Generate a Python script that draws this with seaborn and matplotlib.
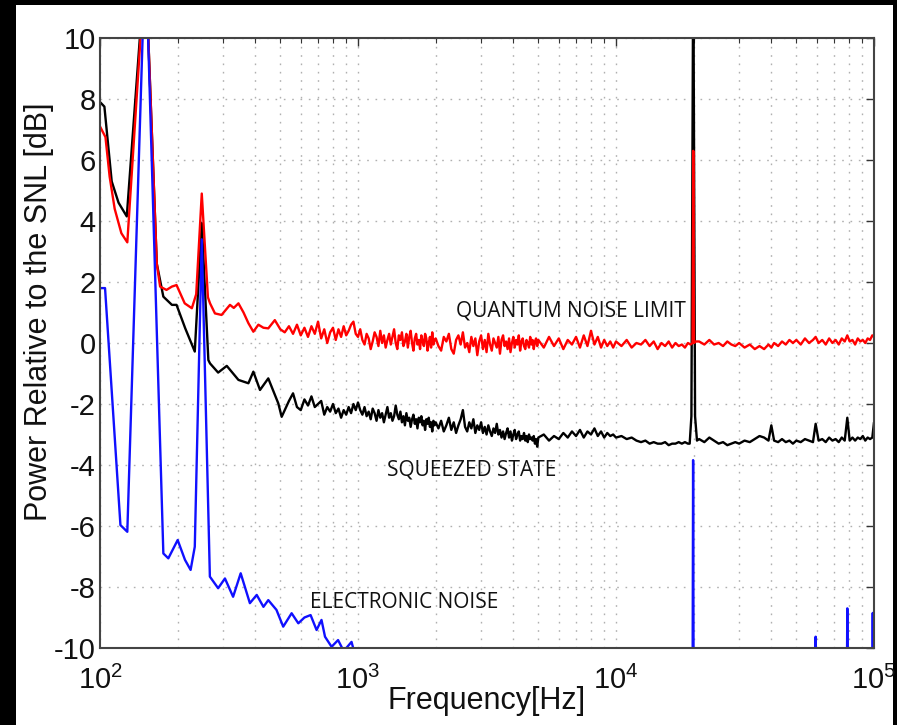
import matplotlib
matplotlib.use("Agg")
import matplotlib.pyplot as plt
import matplotlib.patches as mpatches
from matplotlib.ticker import LogLocator, NullFormatter
import pandas as pd
import seaborn as sns

# ---------------- data ----------------
# low-frequency part, black = squeezed state
f_black_low = [100, 104, 111, 118, 127, 150, 166, 176, 190, 198, 214, 233, 248, 263,
               267, 287, 310, 344, 376, 393, 417, 449, 491, 506]
black_low = [7.9, 7.75, 5.3, 4.6, 4.15, 12.5, 2.6, 1.52, 1.25, 1.25, 0.48, -0.28, 3.93, -0.56,
             -0.67, -0.97, -0.75, -1.21, -1.32, -0.94, -1.54, -1.16, -1.98, -2.42]

# low-frequency part, red = quantum noise limit
f_red_low = [100, 105, 109, 114, 121, 127.6, 150, 166, 171, 181, 190, 198, 213, 227, 236, 248,
             262, 267, 279, 296, 319, 330, 344, 360, 376, 393, 411, 430, 449, 476, 500]
red_low = [7.1, 6.75, 5.45, 4.4, 3.6, 3.3, 12.5, 2.6, 1.85, 1.74, 1.85, 1.9, 1.3, 1.14, 1.6, 4.9,
           1.5, 1.3, 0.97, 0.92, 1.25, 1.15, 1.3, 1.0, 0.65, 0.37, 0.6, 0.5, 0.48, 0.75, 0.45]

# noisy middle band, shared frequency grid
f_mid = [520, 540, 560, 580, 600, 620, 640, 660, 680, 700, 720, 740, 760, 780, 800, 820,
         840, 860, 880, 900, 920, 940, 960, 980,
         1000, 1020, 1040, 1060, 1080, 1100, 1120, 1140, 1160, 1180,
         1200, 1220, 1240, 1260, 1280, 1300, 1320, 1340, 1360, 1380,
         1400, 1420, 1440, 1460, 1480, 1500, 1520, 1540, 1560, 1580,
         1600, 1620, 1640, 1660, 1680, 1700, 1720, 1740, 1760, 1780,
         1800, 1820, 1840, 1860, 1880, 1900, 1920, 1940, 1960, 1980,
         2000, 2050, 2100, 2150, 2200, 2250, 2300, 2350, 2400, 2450,
         2500, 2550, 2600, 2650, 2700, 2750, 2800, 2850, 2900, 2950,
         3000, 3050, 3100, 3150, 3200, 3250, 3300, 3350, 3400, 3450,
         3500, 3550, 3600, 3650, 3700, 3750, 3800, 3850, 3900, 3950,
         4000, 4050, 4100, 4150, 4200, 4250, 4300, 4350, 4400, 4450,
         4500, 4550, 4600, 4650, 4700, 4750, 4800, 4850, 4900, 4950,
         5000, 5250, 5500, 5750, 6000, 6250, 6500, 6750, 7000, 7250, 7500, 7750, 8000, 8250,
         8500, 8750, 9000, 9250, 9500, 9750,
         10000, 10500, 11000, 11500, 12000, 12500, 13000, 13500, 14000, 14500, 15000, 15500,
         16000, 16500, 17000, 17500, 18000, 18500, 19000]
red_mid = [0.35, 0.55, 0.3, 0.6, 0.25, 0.5, 0.2, 0.55, 0.3, 0.7, 0.15, 0.45, 0.0, 0.35, 0.5, 0.1,
           0.45, 0.2, 0.55, 0.25, 0.4, 0.6, 0.7, 0.3,
           0.2, 0.45, 0.1, -0.05, 0.3, 0.15, -0.2, 0.05, 0.35, 0.2,
           -0.1, 0.4, 0.0, 0.25, -0.15, 0.1, 0.3, -0.05, 0.2, 0.45,
           0.0, -0.2, 0.25, 0.1, 0.35, -0.1, 0.05, 0.3, -0.15, 0.2,
           0.4, 0.0, -0.25, 0.15, 0.3, -0.05, 0.1, -0.2, 0.25, 0.05,
           -0.1, 0.3, 0.15, -0.25, 0.0, 0.2, -0.15, 0.35, -0.05, 0.1,
           0.15, -0.1, -0.25, 0.2, 0.05, 0.3, -0.2, -0.35, 0.1, 0.25,
           -0.05, 0.35, -0.15, 0.0, -0.3, 0.2, -0.1, 0.15, -0.4, 0.05,
           0.25, -0.2, 0.1, -0.3, 0.3, -0.05, -0.25, 0.15, 0.0, -0.15,
           0.2, -0.35, 0.1, 0.25, -0.1, 0.05, -0.2, 0.15, -0.3, 0.0,
           0.2, -0.15, 0.1, -0.05, 0.25, -0.25, 0.05, 0.15, -0.1, -0.2,
           0.1, 0.0, -0.15, 0.2, -0.05, 0.1, -0.2, 0.05, 0.15, -0.1,
           0.1, -0.15, 0.2, -0.1, 0.15, -0.2, 0.1, -0.05, 0.2, -0.15, 0.25, -0.1, 0.4, -0.05,
           0.2, -0.15, 0.1, -0.1, 0.05, -0.15,
           0.05, -0.1, 0.1, -0.15, 0.0, -0.05, 0.1, -0.1, 0.05, -0.2, 0.0, -0.1,
           0.05, -0.15, 0.0, -0.1, -0.05, -0.15, 0.0]
black_mid = [-2.2, -1.9, -1.65, -2.1, -2.2, -1.85, -2.05, -1.75, -2.1, -2.0, -1.9, -2.35, -2.1,
             -2.25, -2.0, -2.3, -2.15, -2.45, -2.2, -2.35, -2.1, -2.3, -2.0, -2.2,
             -1.95, -2.2, -2.35, -2.1, -2.4, -2.25, -2.5, -2.15, -2.3, -2.55,
             -2.2, -2.45, -2.3, -2.6, -2.35, -2.1, -2.45, -2.3, -2.55, -2.4,
             -2.05, -2.35, -2.5, -2.25, -2.6, -2.4, -2.7, -2.3, -2.55, -2.45,
             -2.75, -2.5, -2.35, -2.65, -2.5, -2.8, -2.45, -2.6, -2.4, -2.7,
             -2.55, -2.85, -2.5, -2.65, -2.45, -2.75, -2.6, -2.9, -2.55, -2.7,
             -2.6, -2.8, -2.55, -2.9, -2.7, -2.45, -2.85, -2.6, -2.95, -2.7,
             -2.5, -2.2, -2.75, -2.9, -2.6, -2.8, -2.5, -2.95, -2.7, -2.85,
             -2.6, -2.95, -2.75, -3.0, -2.7, -2.9, -3.05, -2.8, -2.95, -2.65,
             -3.0, -2.85, -3.1, -2.9, -3.15, -2.95, -2.8, -3.1, -2.9, -3.2,
             -3.0, -2.85, -3.15, -3.0, -2.9, -3.2, -3.05, -3.15, -2.95, -3.2,
             -3.05, -3.25, -3.0, -3.15, -3.1, -3.2, -3.05, -3.3, -3.15, -3.4,
             -3.1, -3.0, -3.2, -3.05, -3.15, -2.95, -3.1, -2.9, -3.05, -2.85, -3.1, -2.9, -3.0,
             -2.8, -3.05, -2.9, -3.1, -2.95, -3.05, -3.0,
             -3.1, -3.05, -3.15, -3.1, -3.2, -3.25, -3.2, -3.3, -3.25, -3.3, -3.3, -3.25,
             -3.35, -3.3, -3.3, -3.25, -3.3, -3.25, -3.3]

# 20 kHz line
f_red_peak = [19450, 19800, 19930, 20060, 20400]
red_peak = [-0.05, 0.0, 6.3, 0.0, 0.05]
f_black_peak = [19300, 19600, 19930, 20250, 20600]
black_peak = [-3.3, -2.4, 13.0, -2.4, -3.2]

# above 20 kHz, shared frequency grid
f_hi = [21000, 22000, 23000, 24000, 25000, 26000, 27000, 28000, 29000, 30000, 31500, 33000,
        34500, 36000, 37500, 39000, 40000, 41000, 42500, 44000, 45500, 47000, 48500, 50000,
        52000, 54000, 56000, 58000, 59400, 61000, 63000, 65000, 67000, 69000, 71000, 73000,
        75000, 77000, 78800, 80500, 82500, 84500, 86500, 88500, 90500, 92500, 94500, 96500,
        98500, 100000]
red_hi = [0.05, -0.05, 0.1, -0.05, 0.0, -0.1, 0.05, -0.05, -0.1, 0.0, -0.15, -0.05,
          -0.2, -0.1, -0.2, -0.05, -0.15, 0.0, -0.1, 0.05, -0.05, 0.1, 0.0, 0.1,
          -0.05, 0.15, 0.0, 0.1, 0.2, 0.0, 0.1, -0.05, 0.15, 0.0, 0.1, -0.05,
          0.15, 0.05, 0.25, 0.05, 0.1, -0.05, 0.15, 0.05, 0.1, 0.0, 0.15, 0.1,
          0.25, 0.2]
black_hi = [-3.15, -3.25, -3.1, -3.2, -3.3, -3.25, -3.35, -3.3, -3.25, -3.3, -3.2, -3.25,
            -3.15, -3.05, -3.1, -3.2, -2.7, -3.2, -3.25, -3.15, -3.25, -3.2, -3.3, -3.2,
            -3.25, -3.15, -3.2, -3.25, -2.65, -3.2, -3.15, -3.25, -3.1, -3.2, -3.15, -3.25,
            -3.1, -3.2, -2.45, -3.2, -3.1, -3.2, -3.1, -3.15, -3.05, -3.2, -3.1, -3.15,
            -3.1, -2.6]

# blue = electronic noise (values below -10 are off the axes)
f_blue = [100, 104.6, 120, 127.6, 150, 176, 184, 200, 213.5, 224.5, 233, 248, 266.6, 287,
          305, 328, 351, 381, 405, 430, 449, 483, 513, 553, 587, 620, 655, 691, 722, 745,
          790, 837, 880, 944, 1000, 1100, 19800, 19900, 20000, 59000, 59400, 59800,
          78400, 78800, 79200, 98500, 98900, 99300]
blue_vals = [1.8, 1.8, -5.97, -6.19, 13.0, -6.9, -7.06, -6.46, -7.11, -7.44, -6.68, 3.4, -7.66,
             -8.04, -7.72, -8.32, -7.55, -8.53, -8.26, -8.65, -8.43, -8.75, -9.3, -8.86, -9.19,
             -9.0, -8.92, -9.41, -9.08, -9.63, -9.96, -9.74, -10.1, -9.8, -10.6, -12, -12,
             -3.84, -12, -12, -9.63, -12, -12, -8.7, -12, -12, -8.85, -12]

y_ticks = [-10, -8, -6, -4, -2, 0, 2, 4, 6, 8, 10]
labels = ["QUANTUM NOISE LIMIT", "SQUEEZED STATE", "ELECTRONIC NOISE"]
label_f = [2398, 1299, 652]
label_y = [0.885, -4.33, -8.70]

# ---------------- tables ----------------
black_df = pd.DataFrame({"f": f_black_low + f_mid + f_black_peak + f_hi,
                         "p": black_low + black_mid + black_peak + black_hi})
red_df = pd.DataFrame({"f": f_red_low + f_mid + f_red_peak + f_hi,
                       "p": red_low + red_mid + red_peak + red_hi})
blue_df = pd.DataFrame({"f": f_blue, "p": blue_vals})

# ---------------- style ----------------
sns.set_style("white")
plt.rcParams["font.family"] = ["Liberation Sans", "DejaVu Sans"]
plt.rcParams["mathtext.fontset"] = "custom"
plt.rcParams["mathtext.rm"] = "Liberation Sans"
plt.rcParams["mathtext.it"] = "Liberation Sans:italic"
plt.rcParams["mathtext.bf"] = "Liberation Sans:bold"
plt.rcParams["axes.unicode_minus"] = False

fig = plt.figure(figsize=(8.97, 7.25), dpi=100, facecolor="black")
fig.add_artist(mpatches.Rectangle((16 / 897, 0), 877 / 897, 720 / 725,
                                  transform=fig.transFigure, facecolor="white",
                                  edgecolor="none", zorder=-5))
ax = fig.add_axes([100 / 897, 1 - 648 / 725, 774 / 897, 610 / 725])
ax.set_facecolor("white")

lw = 1.7
sns.lineplot(data=black_df, x="f", y="p", color="black", lw=lw, ax=ax,
             estimator=None, sort=False)
sns.lineplot(data=red_df, x="f", y="p", color="#ff0000", lw=lw, ax=ax,
             estimator=None, sort=False)
sns.lineplot(data=blue_df, x="f", y="p", color="#1010ff", lw=lw, ax=ax,
             estimator=None, sort=False)

ax.set_xscale("log")
ax.set_xlim(100, 1e5)
ax.set_ylim(-10, 10)
ax.set_yticks(y_ticks)
ax.xaxis.set_major_locator(LogLocator(base=10, numticks=10))
ax.xaxis.set_minor_locator(LogLocator(base=10, subs=range(2, 10), numticks=60))
ax.xaxis.set_minor_formatter(NullFormatter())

grid_kw = dict(ls=(0, (1.2, 4.8)), color="#b0b0b0", lw=1.0)
ax.grid(True, which="major", axis="both", **grid_kw)
ax.grid(True, which="minor", axis="x", **grid_kw)
ax.tick_params(which="both", direction="in", top=True, right=True, colors="#333333")
ax.tick_params(which="major", length=6, width=1, labelsize=21, pad=3, labelcolor="#111111")
ax.tick_params(axis="x", which="major", pad=13)
ax.tick_params(which="minor", length=3.5, width=0.8)
for s in ax.spines.values():
    s.set_color("#444444")
    s.set_linewidth(1.5)

ax.set_xlabel("Frequency[Hz]", fontsize=22, color="#111111")
ax.xaxis.set_label_coords(0.5, -0.062)
ax.set_ylabel("Power Relative to the SNL [dB]", fontsize=22, color="#111111")
ax.yaxis.set_label_coords(-0.060, 0.552)

for t, fx, fy in zip(labels, label_f, label_y):
    ax.text(fx, fy, t, family=["Open Sans", "DejaVu Sans"], fontsize=15, color="#111111",
            ha="left", va="baseline")

fig.savefig("out.png", dpi=100, facecolor="black")
